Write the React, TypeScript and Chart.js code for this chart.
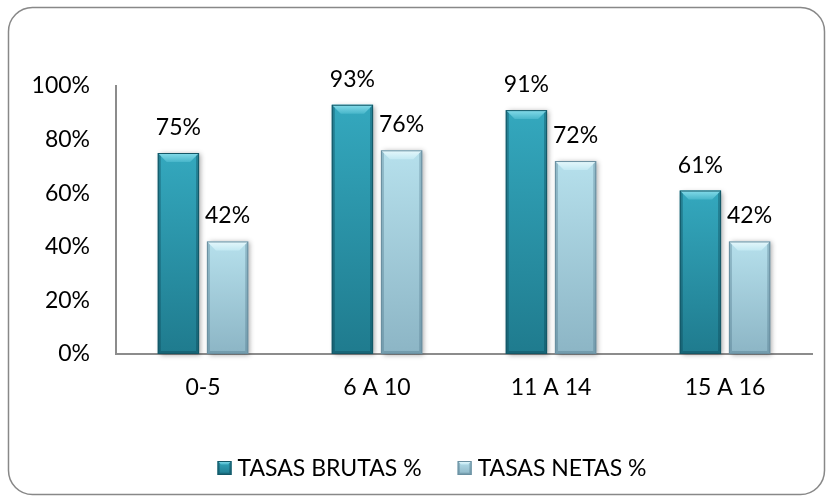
import React, { useEffect, useRef } from "react";
import { Chart, registerables } from "chart.js";

Chart.register(...registerables);

const categories = ["0-5", "6 A 10", "11 A 14", "15 A 16"];
const seriesNames = ["TASAS BRUTAS %", "TASAS NETAS %"];
const brutas = [75, 93, 91, 61];
const netas = [42, 76, 72, 42];
const yMin = 0;
const yMax = 100;
const yStep = 20;

const FONT = "Lato, 'Open Sans', sans-serif";
const FONT_SIZE = 23;

type Pal = { top: string; bottom: string; hi: string; hi2: string; side: string; edge: string };
const palettes: Pal[] = [
  { top: "#34A8BE", bottom: "#1F7B8E", hi: "#86DCEA", hi2: "#48B6CA", side: "rgba(10,60,75,0.35)", edge: "#145766" },
  { top: "#B6E0EC", bottom: "#8CB5C5", hi: "#E6F8FC", hi2: "#C2E8F2", side: "rgba(60,100,120,0.30)", edge: "#6A8FA0" },
];

function drawBevel(ctx: CanvasRenderingContext2D, l: number, t: number, r: number, b: number, pal: Pal, shadow: boolean) {
  const w = r - l;
  const h = b - t;
  if (h <= 0 || w <= 0) return;
  const e = Math.min(9, h / 2, w / 4);
  ctx.save();
  if (shadow) {
    ctx.shadowColor = "rgba(0,0,0,0.35)";
    ctx.shadowBlur = 5;
    ctx.shadowOffsetX = 2;
    ctx.shadowOffsetY = 1;
  }
  const g = ctx.createLinearGradient(0, t, 0, b);
  g.addColorStop(0, pal.top);
  g.addColorStop(1, pal.bottom);
  ctx.fillStyle = g;
  ctx.fillRect(l, t, w, h);
  ctx.restore();

  ctx.save();
  const gh = ctx.createLinearGradient(0, t, 0, t + e);
  gh.addColorStop(0, pal.hi);
  gh.addColorStop(1, pal.hi2);
  ctx.fillStyle = gh;
  ctx.beginPath();
  ctx.moveTo(l, t);
  ctx.lineTo(r, t);
  ctx.lineTo(r - e, t + e);
  ctx.lineTo(l + e, t + e);
  ctx.closePath();
  ctx.fill();
  const s = Math.min(3, w / 6);
  ctx.fillStyle = pal.side;
  ctx.beginPath();
  ctx.moveTo(l, t);
  ctx.lineTo(l + s, t + s);
  ctx.lineTo(l + s, b - s);
  ctx.lineTo(l, b);
  ctx.closePath();
  ctx.fill();
  ctx.beginPath();
  ctx.moveTo(r, t);
  ctx.lineTo(r - s, t + s);
  ctx.lineTo(r - s, b - s);
  ctx.lineTo(r, b);
  ctx.closePath();
  ctx.fill();
  ctx.beginPath();
  ctx.moveTo(l, b);
  ctx.lineTo(l + s, b - s);
  ctx.lineTo(r - s, b - s);
  ctx.lineTo(r, b);
  ctx.closePath();
  ctx.fill();
  ctx.strokeStyle = pal.edge;
  ctx.lineWidth = 1;
  ctx.strokeRect(l + 0.5, t + 0.5, w - 1, h - 1);
  ctx.restore();
}

const framePlugin = {
  id: "frame",
  beforeDraw(chart: any) {
    const ctx = chart.ctx as CanvasRenderingContext2D;
    ctx.save();
    ctx.fillStyle = "#ffffff";
    ctx.fillRect(0, 0, chart.width, chart.height);
    const x = 8.5, y = 7.5, w = chart.width - 17, h = chart.height - 15, rad = 24;
    ctx.beginPath();
    ctx.moveTo(x + rad, y);
    ctx.lineTo(x + w - rad, y);
    ctx.arcTo(x + w, y, x + w, y + rad, rad);
    ctx.lineTo(x + w, y + h - rad);
    ctx.arcTo(x + w, y + h, x + w - rad, y + h, rad);
    ctx.lineTo(x + rad, y + h);
    ctx.arcTo(x, y + h, x, y + h - rad, rad);
    ctx.lineTo(x, y + rad);
    ctx.arcTo(x, y, x + rad, y, rad);
    ctx.closePath();
    ctx.strokeStyle = "#888888";
    ctx.lineWidth = 1.5;
    ctx.stroke();
    ctx.restore();
  },
};

const barsPlugin = {
  id: "bevelBars",
  afterDatasetsDraw(chart: any) {
    const ctx = chart.ctx as CanvasRenderingContext2D;
    chart.data.datasets.forEach((ds: any, di: number) => {
      const meta = chart.getDatasetMeta(di);
      if (meta.hidden) return;
      meta.data.forEach((el: any, i: number) => {
        const { x, y, base, width } = el.getProps(["x", "y", "base", "width"], true);
        drawBevel(ctx, x - width / 2, y, x + width / 2, base, palettes[di], true);
        ctx.save();
        ctx.font = `${FONT_SIZE}px ${FONT}`;
        ctx.fillStyle = "#000000";
        ctx.textAlign = "center";
        ctx.textBaseline = "alphabetic";
        ctx.fillText(`${ds.data[i]}%`, x, y - 18);
        ctx.restore();
      });
    });
  },
};

const legendPlugin = {
  id: "customLegend",
  afterDraw(chart: any) {
    const ctx = chart.ctx as CanvasRenderingContext2D;
    ctx.save();
    ctx.font = `${FONT_SIZE}px ${FONT}`;
    const box = 14;
    const gapText = 6;
    const gapItems = 36;
    const labels = chart.data.datasets.map((d: any) => d.label as string);
    const widths = labels.map((l: string) => ctx.measureText(l).width);
    const total = widths.reduce((a: number, w: number) => a + box + gapText + w, 0) + gapItems * (labels.length - 1);
    const cx = 432;
    const cy = 468;
    let x = cx - total / 2;
    labels.forEach((l: string, i: number) => {
      drawBevel(ctx, x, cy - box / 2, x + box, cy + box / 2, palettes[i], false);
      x += box + gapText;
      ctx.fillStyle = "#000000";
      ctx.textAlign = "left";
      ctx.textBaseline = "middle";
      ctx.fillText(l, x, cy + 1);
      x += widths[i] + gapItems;
    });
    ctx.restore();
  },
};

export default function App() {
  const ref = useRef<HTMLCanvasElement | null>(null);
  useEffect(() => {
    if (!ref.current) return;
    const chart = new Chart(ref.current, {
      type: "bar",
      data: {
        labels: categories,
        datasets: [
          { label: seriesNames[0], data: brutas, backgroundColor: "rgba(0,0,0,0)", borderWidth: 0 },
          { label: seriesNames[1], data: netas, backgroundColor: "rgba(0,0,0,0)", borderWidth: 0 },
        ],
      },
      options: {
        responsive: false,
        animation: false,
        devicePixelRatio: 1,
        layout: { padding: { top: 86, right: 21, left: 0, bottom: 0 } },
        datasets: { bar: { categoryPercentage: 0.565, barPercentage: 0.84 } },
        plugins: { legend: { display: false }, tooltip: { enabled: false } },
        scales: {
          x: {
            grid: { display: false, drawTicks: false },
            border: { display: true, color: "#8c8c8c", width: 2 },
            ticks: { color: "#000000", font: { family: FONT, size: FONT_SIZE }, padding: 20 },
            afterFit: (s: any) => {
              s.height = 148;
            },
          },
          y: {
            min: yMin,
            max: yMax,
            grid: { display: false, drawTicks: false },
            border: { display: true, color: "#8c8c8c", width: 2 },
            ticks: {
              stepSize: yStep,
              color: "#000000",
              font: { family: FONT, size: FONT_SIZE },
              padding: 26,
              callback: (v: any) => `${v}%`,
            },
            afterFit: (s: any) => {
              s.width = 116;
            },
          },
        },
      } as any,
      plugins: [framePlugin, barsPlugin, legendPlugin],
    });
    return () => chart.destroy();
  }, []);
  return (
    <canvas
      ref={ref}
      width={833}
      height={502}
      style={{ position: "fixed", left: 0, top: 0, width: 833, height: 502 }}
    />
  );
}
